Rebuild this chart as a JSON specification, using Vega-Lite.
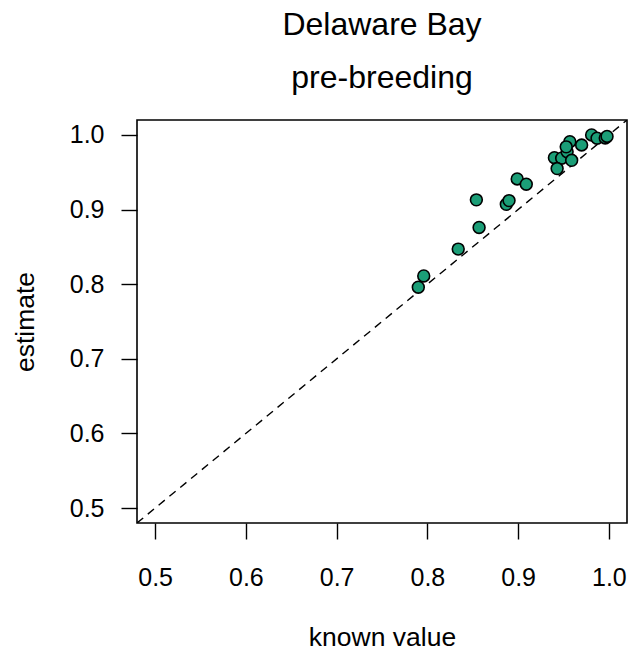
{
  "$schema": "https://vega.github.io/schema/vega-lite/v6.json",
  "autosize": {"type": "none"},
  "width": 490,
  "height": 403,
  "padding": {"left": 137, "top": 120, "right": 6, "bottom": 134},
  "background": "white",
  "title": {
    "text": ["Delaware Bay", "pre-breeding"],
    "font": "Liberation Sans",
    "fontSize": 32,
    "fontWeight": "normal",
    "color": "black",
    "lineHeight": 53,
    "anchor": "middle",
    "offset": 25
  },
  "config": {
    "view": {"stroke": "black", "strokeWidth": 1.6},
    "axis": {
      "grid": false,
      "domain": false,
      "tickColor": "black",
      "tickWidth": 1.4,
      "tickSize": 16,
      "labelFont": "Liberation Sans",
      "labelFontSize": 25,
      "labelColor": "black",
      "titleFont": "Liberation Sans",
      "titleFontSize": 26.5,
      "titleFontWeight": "normal",
      "titleColor": "black"
    }
  },
  "datasets": {
    "pts": [
      {"known": 0.790, "estimate": 0.796},
      {"known": 0.796, "estimate": 0.811},
      {"known": 0.834, "estimate": 0.847},
      {"known": 0.857, "estimate": 0.876},
      {"known": 0.854, "estimate": 0.913},
      {"known": 0.887, "estimate": 0.907},
      {"known": 0.890, "estimate": 0.912},
      {"known": 0.899, "estimate": 0.941},
      {"known": 0.909, "estimate": 0.934},
      {"known": 0.940, "estimate": 0.9695},
      {"known": 0.948, "estimate": 0.9688},
      {"known": 0.943, "estimate": 0.955},
      {"known": 0.954, "estimate": 0.9775},
      {"known": 0.959, "estimate": 0.966},
      {"known": 0.957, "estimate": 0.991},
      {"known": 0.953, "estimate": 0.984},
      {"known": 0.970, "estimate": 0.9865},
      {"known": 0.981, "estimate": 1.000},
      {"known": 0.987, "estimate": 0.9956},
      {"known": 0.996, "estimate": 0.996},
      {"known": 0.998, "estimate": 0.998}
    ],
    "diag": [{"lo": 0.48, "hi": 1.02}]
  },
  "layer": [
    {
      "data": {"name": "diag"},
      "mark": {"type": "rule", "color": "black", "strokeWidth": 1.4, "strokeDash": [8, 6], "clip": true},
      "encoding": {
        "x": {"field": "lo", "type": "quantitative", "scale": {"domain": [0.48, 1.02], "nice": false, "zero": false}},
        "y": {"field": "lo", "type": "quantitative", "scale": {"domain": [0.48, 1.02], "nice": false, "zero": false}},
        "x2": {"field": "hi"},
        "y2": {"field": "hi"}
      }
    },
    {
      "data": {"name": "pts"},
      "mark": {"type": "point", "shape": "circle", "filled": true, "fill": "#1b9e77", "stroke": "black", "strokeWidth": 1.6, "size": 140, "opacity": 1},
      "encoding": {
        "x": {
          "field": "known", "type": "quantitative",
          "scale": {"domain": [0.48, 1.02], "nice": false, "zero": false},
          "axis": {"values": [0.5, 0.6, 0.7, 0.8, 0.9, 1.0], "format": ".1f", "labelPadding": 26, "title": "known value", "titlePadding": 34}
        },
        "y": {
          "field": "estimate", "type": "quantitative",
          "scale": {"domain": [0.48, 1.02], "nice": false, "zero": false},
          "axis": {"values": [0.5, 0.6, 0.7, 0.8, 0.9, 1.0], "format": ".1f", "labelPadding": 17, "title": "estimate", "titlePadding": 30}
        }
      }
    }
  ]
}
